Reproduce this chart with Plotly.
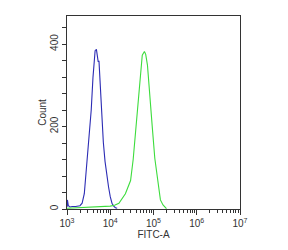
import plotly.graph_objects as go

# FITC-A intensity (log10 units) and counts
blue_log = [3.00, 3.01, 3.03, 3.07, 3.12, 3.20, 3.30, 3.35, 3.40, 3.45, 3.50, 3.53,
            3.56, 3.60, 3.63, 3.65, 3.68, 3.70, 3.72, 3.74, 3.77, 3.80, 3.84, 3.88,
            3.92, 3.96, 4.00, 4.04, 4.08, 4.12, 4.16]
blue_cnt = [5, 22, 8, 5, 6, 6, 8, 14, 37, 100, 160, 200, 240, 318, 358, 384, 387, 370,
            358, 358, 295, 217, 162, 115, 77, 54, 30, 14, 7, 3, 2]

green_log = [3.00, 3.20, 3.40, 3.60, 3.80, 4.00, 4.10, 4.20, 4.35, 4.47, 4.53, 4.60,
             4.65, 4.70, 4.74, 4.79, 4.82, 4.86, 4.92, 4.97, 5.03, 5.10, 5.16, 5.22,
             5.27, 5.30]
green_cnt = [2, 3, 3, 4, 5, 7, 9, 14, 37, 69, 120, 210, 279, 334, 373, 382, 375, 349,
             279, 201, 123, 69, 22, 10, 4, 1]

x_tickvals = [1e3, 1e4, 1e5, 1e6, 1e7]
x_ticktext = ["10<sup>3</sup>", "10<sup>4</sup>", "10<sup>5</sup>", "10<sup>6</sup>", "10<sup>7</sup>"]
x_minor = [m * 10 ** e for e in range(3, 7) for m in range(2, 10)]
y_tickvals = [0, 200, 400]
y_ticktext = ["0", "200", "400"]

fig = go.Figure()
fig.add_trace(go.Scatter(x=[10 ** v for v in blue_log], y=blue_cnt, mode="lines",
                         line=dict(color="#2c2cb4", width=1.1), showlegend=False))
fig.add_trace(go.Scatter(x=[10 ** v for v in green_log], y=green_cnt, mode="lines",
                         line=dict(color="#3ddc3d", width=1.1), showlegend=False))

font = dict(family="Liberation Sans, Arial", size=10, color="#333")
fig.update_layout(
    width=288, height=250,
    margin=dict(l=67, r=48, t=16, b=34),
    paper_bgcolor="white", plot_bgcolor="white",
    font=font,
    xaxis=dict(type="log", range=[3, 7], tickmode="array", tickvals=x_tickvals,
               ticktext=x_ticktext, ticks="outside", ticklen=5, tickwidth=1,
               tickcolor="#333", showline=True, linecolor="#333", linewidth=1,
               mirror=True, showgrid=False, zeroline=False,
               minor=dict(tickmode="array", tickvals=x_minor, ticks="outside",
                          ticklen=3, tickcolor="#333", showgrid=False),
               title=dict(text="FITC-A", standoff=2, font=font)),
    yaxis=dict(range=[0, 468], tickmode="array", tickvals=y_tickvals,
               ticktext=y_ticktext, tickangle=-90, ticks="outside", ticklen=4,
               tickcolor="#333", showline=True, linecolor="#333", linewidth=1,
               mirror=True, showgrid=False, zeroline=False,
               minor=dict(dtick=40, ticks="outside", ticklen=4, tickcolor="#333",
                          showgrid=False),
               title=dict(text="Count", standoff=0, font=font)),
)
fig.write_html("out.html")
